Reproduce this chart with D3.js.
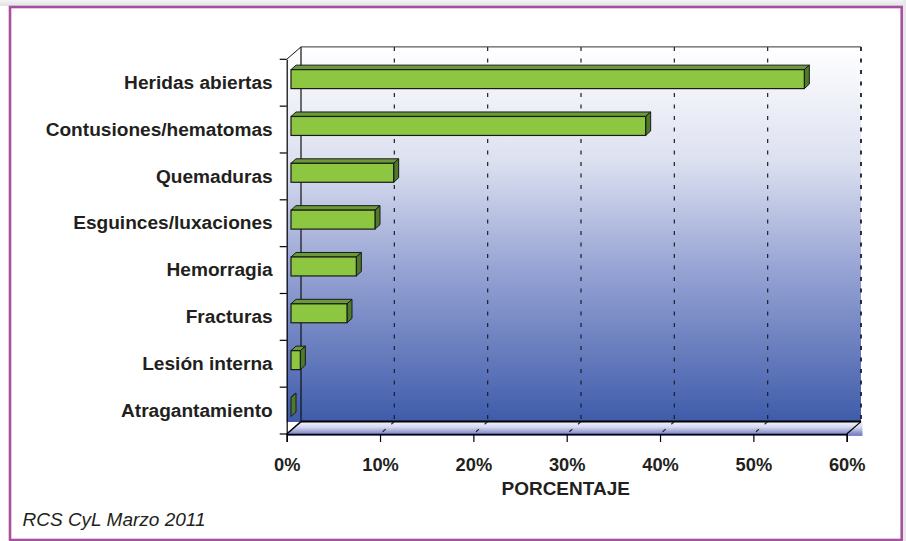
<!DOCTYPE html>
<html>
<head>
<meta charset="utf-8">
<script src="https://cdn.jsdelivr.net/npm/d3@7/dist/d3.min.js"></script>
<style>
  html, body { margin: 0; padding: 0; background: #ffffff; }
  svg { display: block; }
  text { font-family: "Liberation Sans", Arial, Helvetica, sans-serif; fill: #231f20; }
</style>
</head>
<body>
<div id="chart"></div>
<script>
// ---- Data ----
const categories = ["Heridas abiertas", "Contusiones/hematomas", "Quemaduras", "Esguinces/luxaciones",
                    "Hemorragia", "Fracturas", "Lesión interna", "Atragantamiento"];
const values = [55, 38, 11, 9, 7, 6, 1, 0];
const tickValues = [0, 10, 20, 30, 40, 50, 60];
const tickLabels = ["0%", "10%", "20%", "30%", "40%", "50%", "60%"];
const axisTitle = "PORCENTAJE";
const sourceText = "RCS CyL Marzo 2011";

// ---- Layout ----
const W = 906, H = 541;
const front = { left: 286.7, right: 846.7, top: 59.3, bottom: 434 };
const wall = { dx: 14.3, dy: -12.4 };       // depth offset of back wall
const barFront = { dx: 4.3, dy: -3.6 };     // depth offset of bar front face
const barDepth = { dx: 5, dy: -4.5 };       // thickness of bar in depth

const svg = d3.select("#chart").append("svg").attr("width", W).attr("height", H);
const defs = svg.append("defs");

const wallGrad = defs.append("linearGradient").attr("id", "wallGrad")
  .attr("gradientUnits", "userSpaceOnUse").attr("x1", 0).attr("x2", 0)
  .attr("y1", front.top + wall.dy).attr("y2", front.bottom + wall.dy);
wallGrad.append("stop").attr("offset", "0%").attr("stop-color", "#ffffff");
wallGrad.append("stop").attr("offset", "30%").attr("stop-color", "#dde1f0");
wallGrad.append("stop").attr("offset", "60%").attr("stop-color", "#95a2d3");
wallGrad.append("stop").attr("offset", "100%").attr("stop-color", "#3f5caa");

const floorGrad = defs.append("linearGradient").attr("id", "floorGrad")
  .attr("gradientUnits", "userSpaceOnUse").attr("x1", 0).attr("x2", 0)
  .attr("y1", front.bottom + wall.dy).attr("y2", front.bottom);
floorGrad.append("stop").attr("offset", "0%").attr("stop-color", "#f4f5fb");
floorGrad.append("stop").attr("offset", "45%").attr("stop-color", "#d4d8ef");
floorGrad.append("stop").attr("offset", "100%").attr("stop-color", "#7d86c6");

const shadowGrad = defs.append("linearGradient").attr("id", "shadowGrad")
  .attr("x1", 0).attr("x2", 0).attr("y1", 0).attr("y2", 1);
shadowGrad.append("stop").attr("offset", "0%").attr("stop-color", "#f4f4f4");
shadowGrad.append("stop").attr("offset", "100%").attr("stop-color", "#e2e2e2");

// ---- Frame ----
svg.append("rect").attr("x", 0).attr("y", 0).attr("width", W).attr("height", H).attr("fill", "#ffffff");
svg.append("rect").attr("x", 0).attr("y", 0).attr("width", W).attr("height", 6).attr("fill", "url(#shadowGrad)");
svg.append("rect").attr("x", 903).attr("y", 0).attr("width", 3).attr("height", H).attr("fill", "#e8e8e8");
svg.append("rect").attr("x", 10).attr("y", 7).attr("width", 891.7).attr("height", 533)
  .attr("fill", "#ffffff").attr("stroke", "#a6509f").attr("stroke-width", 2.6);

// ---- Scales ----
const x = d3.scaleLinear().domain([0, 60]).range([front.left, front.right]);
const y = d3.scaleBand().domain(categories).range([front.top, front.bottom]).padding(0);
const barH = y.bandwidth() * 0.405;

const g = svg.append("g");

// Side wall
g.append("path")
  .attr("d", `M${front.left},${front.top} L${front.left + wall.dx},${front.top + wall.dy} L${front.left + wall.dx},${front.bottom + wall.dy} L${front.left},${front.bottom} Z`)
  .attr("fill", "url(#wallGrad)");
// Back wall
g.append("rect")
  .attr("x", front.left + wall.dx).attr("y", front.top + wall.dy)
  .attr("width", front.right - front.left).attr("height", front.bottom - front.top)
  .attr("fill", "url(#wallGrad)");
// Floor
g.append("path")
  .attr("d", `M${front.left},${front.bottom} L${front.left + wall.dx},${front.bottom + wall.dy} L${front.right + wall.dx + 1.5},${front.bottom + wall.dy} L${front.right + wall.dx + 1.5},${front.bottom + 2} L${front.left},${front.bottom + 2} Z`)
  .attr("fill", "url(#floorGrad)");
g.append("path")
  .attr("d", `M${front.left - 1},${front.bottom + 0.5} L${front.left + wall.dx - 1},${front.bottom + wall.dy + 0.5} L${front.left - 1},${front.bottom + wall.dy + 0.5} Z`)
  .attr("fill", "#ffffff");

// Gridlines on back wall (dashed)
g.selectAll("line.grid").data(tickValues.filter(d => d > 0)).join("line")
  .attr("class", "grid")
  .attr("x1", d => x(d) + wall.dx).attr("x2", d => x(d) + wall.dx)
  .attr("y1", front.top + wall.dy).attr("y2", front.bottom + wall.dy)
  .attr("stroke", "#1c1c2a").attr("stroke-width", d => d === 60 ? 1.8 : 1.2)
  .attr("stroke-dasharray", "4,7.5");
// Gridlines across floor
g.selectAll("line.fgrid").data(tickValues.filter(d => d > 0 && d < 60)).join("line")
  .attr("class", "fgrid")
  .attr("x1", d => x(d) + wall.dx).attr("y1", front.bottom + wall.dy)
  .attr("x2", d => x(d)).attr("y2", front.bottom)
  .attr("stroke", "#1c1c2a").attr("stroke-width", 1.1)
  .attr("stroke-dasharray", "4,7.5");

// Back wall borders
g.append("line").attr("x1", front.left + wall.dx).attr("x2", front.right + wall.dx)
  .attr("y1", front.top + wall.dy).attr("y2", front.top + wall.dy)
  .attr("stroke", "#333").attr("stroke-width", 1);
g.append("line").attr("x1", front.left + wall.dx).attr("x2", front.left + wall.dx)
  .attr("y1", front.top + wall.dy).attr("y2", front.bottom + wall.dy)
  .attr("stroke", "#111").attr("stroke-width", 1.2);
g.append("line").attr("x1", front.left).attr("y1", front.top)
  .attr("x2", front.left + wall.dx).attr("y2", front.top + wall.dy)
  .attr("stroke", "#111").attr("stroke-width", 1);
// Floor edges
g.append("line").attr("x1", front.left + wall.dx).attr("x2", front.right + wall.dx)
  .attr("y1", front.bottom + wall.dy).attr("y2", front.bottom + wall.dy)
  .attr("stroke", "#000").attr("stroke-width", 2);
g.append("line").attr("x1", front.left).attr("y1", front.bottom)
  .attr("x2", front.left + wall.dx).attr("y2", front.bottom + wall.dy)
  .attr("stroke", "#000").attr("stroke-width", 1.4);
g.append("line").attr("x1", front.right).attr("y1", front.bottom)
  .attr("x2", front.right + wall.dx).attr("y2", front.bottom + wall.dy)
  .attr("stroke", "#000").attr("stroke-width", 1.2);

// ---- Bars ----
const bars = g.selectAll("g.bar").data(categories.map((c, i) => ({ c, v: values[i] }))).join("g").attr("class", "bar");
function geo(d) {
  const yc = y(d.c) + y.bandwidth() / 2 + barFront.dy;
  const x0 = x(0) + barFront.dx, x1 = x(d.v) + barFront.dx;
  return { x0, x1, yt: yc - barH / 2, yb: yc + barH / 2 };
}
bars.append("path")
  .attr("d", d => { const b = geo(d);
    return `M${b.x0},${b.yt} L${b.x0 + barDepth.dx},${b.yt + barDepth.dy} L${b.x1 + barDepth.dx},${b.yt + barDepth.dy} L${b.x1},${b.yt} Z`; })
  .attr("fill", "#6a9a37").attr("stroke", "#1a1a1a").attr("stroke-width", 1).attr("stroke-linejoin", "round");
bars.append("path")
  .attr("d", d => { const b = geo(d);
    return `M${b.x1},${b.yt} L${b.x1 + barDepth.dx},${b.yt + barDepth.dy} L${b.x1 + barDepth.dx},${b.yb + barDepth.dy} L${b.x1},${b.yb} Z`; })
  .attr("fill", "#4e7a2a").attr("stroke", "#1a1a1a").attr("stroke-width", 1).attr("stroke-linejoin", "round");
bars.filter(d => d.v > 0).append("rect")
  .attr("x", d => geo(d).x0).attr("y", d => geo(d).yt)
  .attr("width", d => geo(d).x1 - geo(d).x0).attr("height", barH)
  .attr("fill", "#8dc641").attr("stroke", "#1a1a1a").attr("stroke-width", 1.2);

// ---- Axes ----
const xAxis = d3.axisBottom(x).tickValues(tickValues).tickFormat((d, i) => tickLabels[i]).tickSize(8).tickPadding(16);
const gx = svg.append("g").attr("transform", `translate(0,${front.bottom})`).call(xAxis);
gx.select(".domain").attr("stroke", "#000").attr("stroke-width", 1.4);
gx.selectAll(".tick line").attr("stroke", "#000").attr("stroke-width", 1.2);
gx.selectAll(".tick text").attr("font-size", "18.3px").attr("font-weight", "bold").attr("fill", "#231f20")
  .attr("font-family", "Liberation Sans, Arial, sans-serif");

const yAxis = d3.axisLeft(y).tickSize(0).tickPadding(14);
const gy = svg.append("g").attr("transform", `translate(${front.left},0)`).call(yAxis);
gy.select(".domain").attr("stroke", "#000").attr("stroke-width", 1.2);
gy.selectAll(".tick text").attr("font-size", "19.1px").attr("font-weight", "bold").attr("fill", "#231f20")
  .attr("font-family", "Liberation Sans, Arial, sans-serif");
// category boundary ticks
const bounds = categories.map(c => y(c)).concat([front.bottom]);
svg.append("g").selectAll("line").data(bounds).join("line")
  .attr("x1", front.left - 7).attr("x2", front.left).attr("y1", d => d).attr("y2", d => d)
  .attr("stroke", "#000").attr("stroke-width", 1.2);

// Axis title
svg.append("text").attr("x", (front.left + front.right) / 2 - 1).attr("y", 495)
  .attr("text-anchor", "middle").attr("font-size", "19px").attr("font-weight", "bold")
  .text(axisTitle);

// Source
svg.append("text").attr("x", 22.5).attr("y", 526).attr("font-size", "19px").attr("font-style", "italic")
  .text(sourceText);
</script>
</body>
</html>
